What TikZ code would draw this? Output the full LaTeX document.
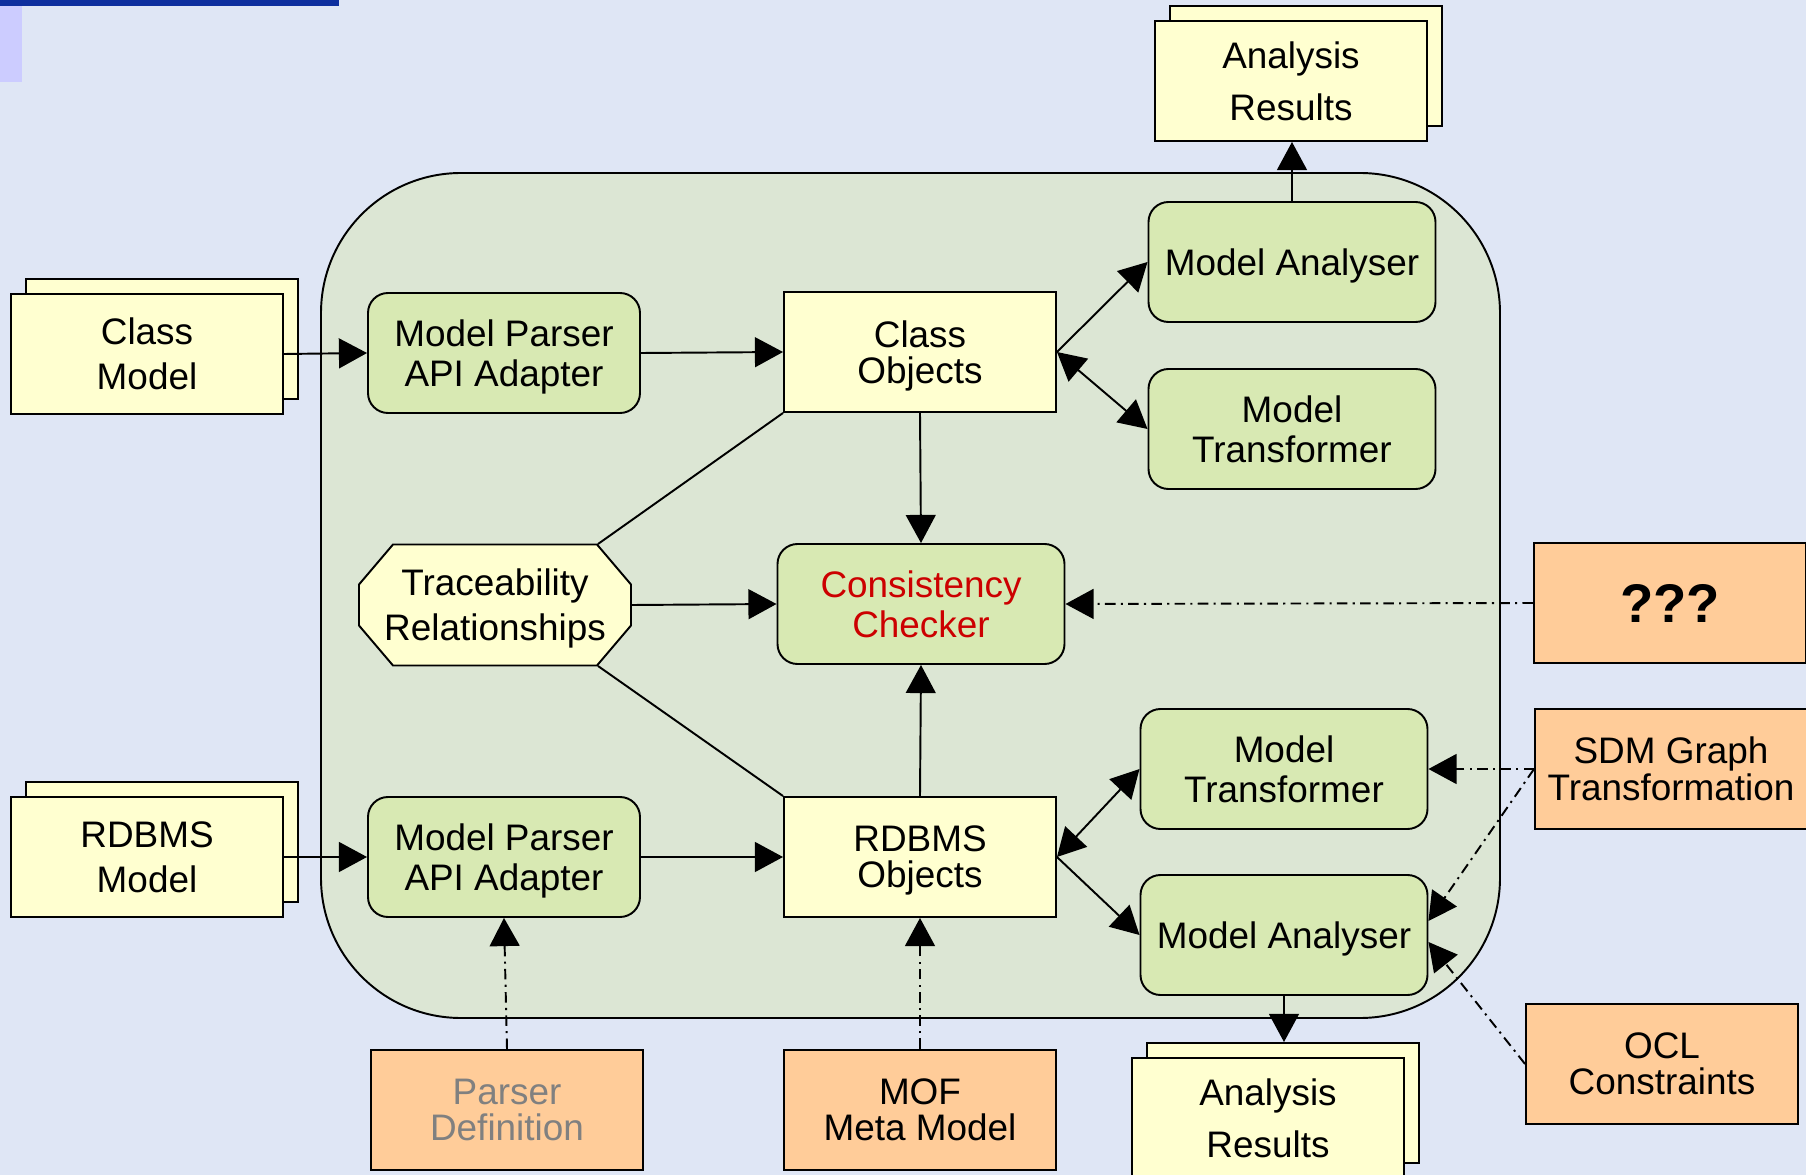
\documentclass[tikz,border=0pt]{standalone}
\usepackage{fontspec}
\setmainfont{Liberation Sans}
\usetikzlibrary{arrows.meta,shadows,calc}
\definecolor{pagebg}{HTML}{DFE6F5}
\definecolor{barblue}{HTML}{0E2F9E}
\definecolor{barlilac}{HTML}{CCCCFF}
\definecolor{frame}{HTML}{DCE6D4}
\definecolor{itemyellow}{HTML}{FFFFD0}
\definecolor{partgreen}{HTML}{D8E9B3}
\definecolor{inputorange}{HTML}{FFCC99}
\definecolor{checkred}{HTML}{CC0000}
\tikzset{
  box/.style={draw=black,line width=0.55pt,minimum width=2.72cm,minimum height=1.2cm,
    inner sep=0pt,align=center,text depth=0pt,font=\fontsize{10.5}{11.2}\selectfont},
  item/.style={box,fill=itemyellow},
  doc/.style={item,copy shadow={shadow xshift=0.15cm,shadow yshift=0.15cm,
    fill=itemyellow,draw=black,line width=0.55pt}},
  part/.style={box,fill=partgreen,rounded corners=0.2cm},
  wide/.style={minimum width=2.87cm},
  input/.style={box,fill=inputorange},
  tip/.style={Triangle[length=8pt,width=8.5pt]},
  arr/.style={line width=0.55pt,-{Triangle[length=8pt,width=8.5pt]}},
  biarr/.style={line width=0.55pt,{Triangle[length=8pt,width=8.5pt]}-{Triangle[length=8pt,width=8.5pt]}},
  dashdot/.style={dash pattern=on 3pt off 1.5pt on 0.6pt off 1.5pt}
}

\begin{document}
\begin{tikzpicture}
    \fill[pagebg] (0,0) rectangle (18.06,-11.75);
    \useasboundingbox (0,0) rectangle (18.06,-11.75);
    \fill[barblue] (0,0) rectangle (3.39,-0.06);
    \fill[barlilac] (0,-0.06) rectangle (0.22,-0.82);

    \draw[fill=frame,line width=0.55pt,rounded corners=1.4cm] (3.21,-1.73) rectangle (15.00,-10.18);

    \node[doc,font=\fontsize{10.5}{15}\selectfont] (art) at (12.91,-0.81) {Analysis\\Results};
    \node[part,wide] (mat) at (12.92,-2.62) {Model Analyser};
    \node[doc,font=\fontsize{10.5}{12.8}\selectfont] (cm) at (1.47,-3.54) {Class\\Model};
    \node[part] (pt) at (5.04,-3.53) {Model Parser\\API Adapter};
    \node[item,font=\fontsize{10.5}{10.2}\selectfont] (cobj) at (9.20,-3.52) {Class\\Objects};
    \node[part,wide] (mtt) at (12.92,-4.29) {Model\\Transformer};

    \begin{scope}[shift={(4.95,-6.05)}]
        \draw[fill=itemyellow,line width=0.55pt] (-1.02,0.605) -- (1.02,0.605) -- (1.36,0.205)
            -- (1.36,-0.205) -- (1.02,-0.605) -- (-1.02,-0.605) -- (-1.36,-0.205) -- (-1.36,0.205) -- cycle;
    \end{scope}
    \node[box,draw=none,font=\fontsize{10.5}{12.8}\selectfont] (trace) at (4.95,-6.05) {Traceability\\Relationships};
    \node[part,wide,text=checkred] (chk) at (9.21,-6.04) {Consistency\\Checker};
    \node[input,font=\fontsize{15.5}{16}\selectfont\bfseries] (q) at (16.70,-6.03) {???};

    \node[part,wide] (mtb) at (12.84,-7.69) {Model\\Transformer};
    \node[input,font=\fontsize{10.5}{10.5}\selectfont] (sdm) at (16.71,-7.69) {SDM Graph\\Transformation};
    \node[doc,font=\fontsize{10.5}{12.8}\selectfont] (rm) at (1.47,-8.57) {RDBMS\\Model};
    \node[part] (pb) at (5.04,-8.57) {Model Parser\\API Adapter};
    \node[item,font=\fontsize{10.5}{10.2}\selectfont] (robj) at (9.20,-8.57) {RDBMS\\Objects};
    \node[part,wide] (mab) at (12.84,-9.35) {Model Analyser};

    \node[input,text=gray,font=\fontsize{10.5}{10.2}\selectfont] (pdef) at (5.07,-11.10) {Parser\\Definition};
    \node[input,font=\fontsize{10.5}{10.2}\selectfont] (mof) at (9.20,-11.10) {MOF\\Meta Model};
    \node[doc,font=\fontsize{10.5}{15}\selectfont] (arb) at (12.68,-11.18) {Analysis\\Results};
    \node[input,font=\fontsize{10.5}{10.2}\selectfont] (ocl) at (16.62,-10.64) {OCL\\Constraints};

    \draw[arr] (cm.east) -- (pt.west);
    \draw[arr] (pt.east) -- (cobj.west);
    \draw[arr] (cobj.east) -- (mat.west);
    \draw[biarr] (cobj.east) -- (mtt.west);
    \draw[arr] (mat.north) -- (mat.north |- art.south);
    \draw[arr] (cobj.south) -- (chk.north);
    \draw[line width=0.55pt] (cobj.south west) -- ($(trace.north east)+(-0.34,0)$);
    \draw[arr] (trace.east) -- (chk.west);
    \draw[line width=0.55pt] ($(trace.south east)+(-0.34,0)$) -- (robj.north west);
    \draw[arr] (robj.north) -- (chk.south);
    \draw[arr,dashdot] (q.west) -- (chk.east);

    \draw[arr] (rm.east) -- (pb.west);
    \draw[arr] (pb.east) -- (robj.west);
    \draw[biarr] (robj.east) -- (mtb.west);
    \draw[arr] (robj.east) -- (mab.west);
    \draw[arr] (mab.south) -- ([yshift=0.15cm]mab.south |- arb.north);
    \draw[arr,dashdot] (sdm.west) -- (mtb.east);
    \draw[arr,dashdot] (sdm.west) -- ([yshift=0.14cm]mab.east);
    \draw[arr,dashdot] (ocl.west) -- ([yshift=-0.07cm]mab.east);
    \draw[arr,dashdot] (pdef.north) -- (pb.south);
    \draw[arr,dashdot] (mof.north) -- (robj.south);
\end{tikzpicture}
\end{document}
